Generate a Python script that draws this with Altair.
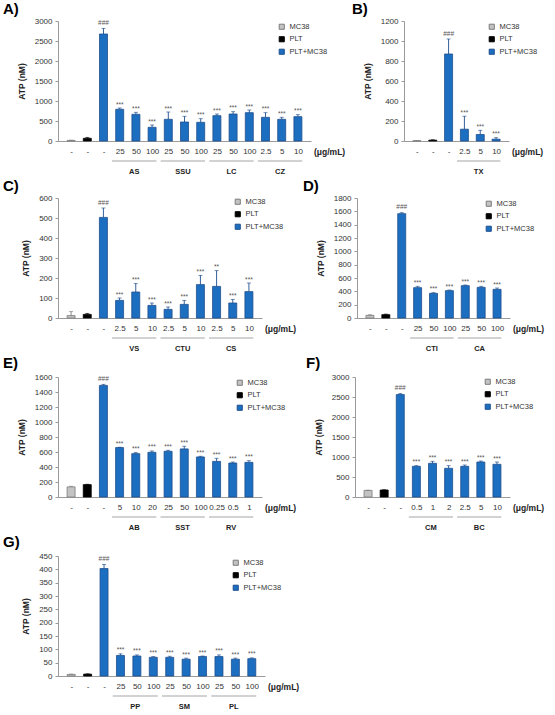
import json
import altair as alt
import pandas as pd

FONT = "Liberation Sans"
GROUPS = ["MC38", "PLT", "PLT+MC38"]
FILL_COLORS = ["#c3c3c3", "#000000", "#1c6ec0"]
EDGE_COLORS = ["#7b7b7b", "#000000", "#1f4f8e"]
ERR_COLORS = {"MC38": "#7b7b7b", "PLT": "#000000", "PLT+MC38": "#1f4f8e"}
CONTROLS = ["-", "-", "-"]
UNIT = "(μg/mL)"

# A) AS, SSU, LC, CZ
a_drugs = ["AS", "SSU", "LC", "CZ"]
a_doses = ["25", "50", "100", "25", "50", "100", "25", "50", "100", "2.5", "5", "10"]
a_mean = [15, 67, 2675, 792, 667, 342, 542, 475, 467, 633, 675, 708, 592, 542, 608]
a_err = [5, 23, 140, 33, 50, 58, 183, 142, 91, 42, 58, 67, 116, 50, 50]
a_sig = ["", "", "###", "***", "***", "***", "***", "***", "***", "***", "***", "***", "***", "***", "***"]

# B) TX
b_drugs = ["TX"]
b_doses = ["2.5", "5", "10"]
b_mean = [3, 8, 870, 118, 65, 18]
b_err = [2, 4, 150, 130, 42, 15]
b_sig = ["", "", "###", "***", "***", "***"]

# C) VS, CTU, CS
c_drugs = ["VS", "CTU", "CS"]
c_doses = ["2.5", "5", "10", "2.5", "5", "10", "2.5", "5", "10"]
c_mean = [12, 18, 503, 88, 130, 63, 43, 68, 167, 158, 75, 132]
c_err = [20, 5, 47, 12, 42, 12, 12, 20, 46, 79, 18, 43]
c_sig = ["", "", "###", "***", "***", "***", "***", "***", "***", "**", "***", "***"]

# D) CTI, CA
d_drugs = ["CTI", "CA"]
d_doses = ["25", "50", "100", "25", "50", "100"]
d_mean = [40, 50, 1565, 455, 370, 410, 485, 460, 430]
d_err = [8, 8, 15, 20, 10, 10, 10, 15, 20]
d_sig = ["", "", "###", "***", "***", "***", "***", "***", "***"]

# E) AB, SST, RV
e_drugs = ["AB", "SST", "RV"]
e_doses = ["5", "10", "20", "25", "50", "100", "0.25", "0.5", "1"]
e_mean = [135, 165, 1488, 659, 578, 596, 610, 641, 534, 475, 453, 462]
e_err = [8, 5, 14, 5, 14, 18, 13, 36, 9, 41, 13, 22]
e_sig = ["", "", "###", "***", "***", "***", "***", "***", "***", "***", "***", "***"]

# F) CM, BC
f_drugs = ["CM", "BC"]
f_doses = ["0.5", "1", "2", "2.5", "5", "10"]
f_mean = [165, 175, 2560, 767, 842, 717, 767, 875, 817]
f_err = [5, 5, 25, 16, 50, 66, 33, 25, 58]
f_sig = ["", "", "###", "***", "***", "***", "***", "***", "***"]

# G) PP, SM, PL
g_drugs = ["PP", "SM", "PL"]
g_doses = ["25", "50", "100", "25", "50", "100", "25", "50", "100"]
g_mean = [6, 7, 403, 77, 75, 70, 70, 63, 73, 73, 63, 65]
g_err = [1, 1, 15, 6, 4, 3, 4, 4, 2, 6, 4, 3]
g_sig = ["", "", "###", "***", "***", "***", "***", "***", "***", "***", "***", "***"]

HEIGHT = 120


def panel(letter, drugs, doses, means, errs, sigs, ymax, ystep, width,
          letter_pos, legend_pos):
    n = len(means)
    labels = CONTROLS + doses
    kinds = GROUPS + ["PLT+MC38"] * len(doses)
    bars = pd.DataFrame({"idx": list(range(n)), "mean": means, "err": errs,
                         "group": kinds, "sig": sigs})
    bars["top"] = bars["mean"] + bars["err"]
    bars["ecolor"] = bars["group"].map(ERR_COLORS)

    spans = pd.DataFrame({
        "name": drugs,
        "start": [3 + 3 * k - 0.47 for k in range(len(drugs))],
        "end": [3 + 3 * k + 2 + 0.27 for k in range(len(drugs))],
    })
    spans["mid"] = (spans["start"] + spans["end"]) / 2

    xs = alt.Scale(domain=[-0.5, n - 0.5], nice=False, zero=False)
    ys = alt.Scale(domain=[0, ymax], nice=False)

    # the same axis definitions go on every layer so the merged axes agree
    x_axis = alt.Axis(values=list(range(n)), labelExpr=json.dumps(labels) + "[datum.value]",
                      title=None, ticks=False, grid=False, domainColor="#9a9a9a",
                      labelFontSize=8, labelColor="#333", labelPadding=6,
                      labelFlush=False, labelOverlap=False, labelAngle=0)
    y_axis = alt.Axis(values=list(range(0, ymax + 1, ystep)), format="d", title="ATP (nM)",
                      titleFontSize=8.5, titleFontWeight="bold", titleColor="#222",
                      titlePadding=8, labelFontSize=8, labelColor="#333",
                      tickSize=3, tickColor="#9a9a9a", domainColor="#9a9a9a",
                      grid=False, labelPadding=3)

    leg = alt.Legend(title=None, orient="none", legendX=legend_pos[0], legendY=legend_pos[1],
                     symbolType="square", symbolSize=26, symbolStrokeWidth=1,
                     labelFontSize=7.5, labelColor="#333", rowPadding=2.5,
                     labelOffset=4, padding=0)

    def xq(field):
        return alt.X(field, scale=xs, axis=x_axis)

    def yq(field):
        return alt.Y(field, scale=ys, axis=y_axis)

    base = alt.Chart(bars)

    bar_layer = base.mark_bar(size=8, strokeWidth=0.8, orient="vertical").encode(
        x=xq("idx:Q"),
        y=yq("mean:Q"),
        fill=alt.Fill("group:N", scale=alt.Scale(domain=GROUPS, range=FILL_COLORS), legend=leg),
        stroke=alt.Stroke("group:N", scale=alt.Scale(domain=GROUPS, range=EDGE_COLORS), legend=leg),
    )
    err_line = base.mark_rule(strokeWidth=0.9).encode(
        x=xq("idx:Q"),
        y=yq("mean:Q"),
        y2="top:Q",
        color=alt.Color("ecolor:N", scale=None),
    )
    err_cap = base.mark_tick(orient="horizontal", size=4, thickness=0.9).encode(
        x=xq("idx:Q"),
        y=yq("top:Q"),
        color=alt.Color("ecolor:N", scale=None),
    )
    stars = base.transform_filter("indexof(datum.sig, '*') >= 0").mark_text(
        fontSize=6.5, baseline="alphabetic", dy=-1.5, color="#555"
    ).encode(x=xq("idx:Q"), y=yq("top:Q"), text="sig:N")
    hashes = base.transform_filter("indexof(datum.sig, '#') >= 0").mark_text(
        fontSize=6.5, baseline="alphabetic", dy=-3.5, color="#555"
    ).encode(x=xq("idx:Q"), y=yq("top:Q"), text="sig:N")

    span_base = alt.Chart(spans)
    underline = span_base.mark_rule(color="#a5a5a5", strokeWidth=1.2).encode(
        x=xq("start:Q"), x2="end:Q", y=alt.value(HEIGHT + 20)
    )
    drug_text = span_base.mark_text(fontSize=7.5, fontWeight="bold", color="#222",
                                    baseline="middle").encode(
        x=xq("mid:Q"), y=alt.value(HEIGHT + 31), text="name:N"
    )

    one = alt.Chart(pd.DataFrame({"k": [0]}))
    unit_text = one.mark_text(text=UNIT, fontSize=8.5, fontWeight="bold", color="#222",
                              align="left", baseline="middle").encode(
        x=alt.value(width + 3), y=alt.value(HEIGHT + 11)
    )
    letter_text = one.mark_text(text=letter + ")", fontSize=15, fontWeight="bold",
                                color="#000", align="left", baseline="alphabetic").encode(
        x=alt.value(letter_pos[0]), y=alt.value(letter_pos[1])
    )

    return alt.layer(bar_layer, err_line, err_cap, stars, hashes, underline,
                     drug_text, unit_text, letter_text).properties(width=width, height=HEIGHT)


def row(charts, spacing):
    return alt.hconcat(*charts, spacing=spacing, bounds="flush").resolve_scale(
        fill="independent", stroke="independent"
    ).resolve_legend(fill="independent", stroke="independent")


pA = panel("A", a_drugs, a_doses, a_mean, a_err, a_sig, 3000, 500, 253, (-55, -7), (220, 2))
pB = panel("B", b_drugs, b_doses, b_mean, b_err, b_sig, 1200, 200, 105, (-52, -7), (84, 2))
pC = panel("C", c_drugs, c_doses, c_mean, c_err, c_sig, 600, 100, 204, (-55, -7), (176, 0))
pD = panel("D", d_drugs, d_doses, d_mean, d_err, d_sig, 1800, 200, 153, (-54, -7), (128, 2))
pE = panel("E", e_drugs, e_doses, e_mean, e_err, e_sig, 1600, 200, 204, (-55, -9), (178, 2))
pF = panel("F", f_drugs, f_doses, f_mean, f_err, f_sig, 3000, 500, 155, (-49, -9), (129, 1))
pG = panel("G", g_drugs, g_doses, g_mean, g_err, g_sig, 450, 50, 207, (-55, -9), (174, 3))

chart = alt.vconcat(
    row([pA, pB], 93),
    row([pC, pD], 95),
    row([pE, pF], 93),
    pG,
    spacing=3,
).resolve_scale(
    fill="independent", stroke="independent"
).resolve_legend(
    fill="independent", stroke="independent"
).properties(
    padding={"left": 3, "top": 2, "right": 0, "bottom": 0}
).configure(
    font=FONT
).configure_view(stroke=None)

chart.save("out.html", embed_options={"renderer": "svg", "actions": False})
